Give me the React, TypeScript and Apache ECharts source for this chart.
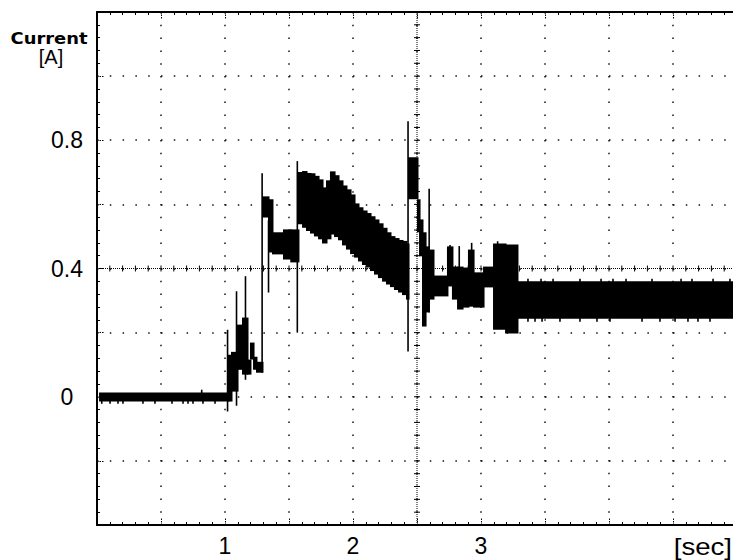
import React, { useEffect, useRef } from "react";
import * as echarts from "echarts";

// ---- axes (seconds / amperes) ----
const X_MIN = 0;
const X_MAX = 5;
const X_STEP = 0.5;
const X_MINOR = 0.1;
const Y_MIN = -0.4;
const Y_MAX = 1.2;
const Y_STEP = 0.2;
const Y_MINOR = 0.04;
const X_LABELS = [1, 2, 3];
const Y_LABELS = [0, 0.4, 0.8];
const X_UNIT = "[sec]";
const Y_TITLE = "Current";
const Y_UNIT = "[A]";
const CENTER_T = 2.5;
const CENTER_A = 0.4;

// ---- current envelope: block start time (s), low (A), high (A); a block lasts until the next start ----
const envTime = [
  0.016,
  1.023, 1.047, 1.094, 1.133, 1.172, 1.195, 1.219, 1.242,
  1.289, 1.336, 1.367, 1.453, 1.51,
  1.57, 1.602, 1.633, 1.664, 1.695, 1.727, 1.758, 1.789, 1.82, 1.852, 1.883, 1.914, 1.945, 1.977,
  2.008, 2.039, 2.07, 2.102, 2.133, 2.164, 2.195, 2.227, 2.258, 2.289, 2.32, 2.352, 2.383, 2.414,
  2.43, 2.5, 2.516, 2.539, 2.563, 2.586, 2.625, 2.734, 2.773, 2.813, 2.852, 2.898, 2.938, 3.016, 3.094, 3.188,
  3.281,
];
const envLow = [
  -0.015,
  -0.015, 0.016, 0.084, 0.069, 0.069, 0.116, 0.084, 0.075,
  0.559, 0.45, 0.444, 0.428, 0.419,
  0.538, 0.527, 0.517, 0.509, 0.5, 0.491, 0.478, 0.491, 0.506, 0.498, 0.488, 0.472, 0.459, 0.445,
  0.434, 0.422, 0.411, 0.403, 0.392, 0.381, 0.37, 0.359, 0.35, 0.342, 0.333, 0.325, 0.317, 0.303,
  0.616, 0.513, 0.438, 0.219, 0.263, 0.303, 0.313, 0.344, 0.303, 0.272, 0.278, 0.281, 0.278, 0.341, 0.209, 0.197,
  0.243,
];
const envHigh = [
  0.013,
  0.131, 0.14, 0.225, 0.247, 0.116, 0.169, 0.125, 0.109,
  0.625, 0.616, 0.513, 0.522, 0.522,
  0.701, 0.704, 0.698, 0.697, 0.689, 0.678, 0.653, 0.675, 0.703, 0.691, 0.675, 0.659, 0.647, 0.631,
  0.603, 0.591, 0.581, 0.573, 0.563, 0.553, 0.541, 0.527, 0.513, 0.501, 0.495, 0.489, 0.486, 0.478,
  0.747, 0.616, 0.553, 0.513, 0.469, 0.459, 0.378, 0.469, 0.406, 0.406, 0.403, 0.459, 0.388, 0.406, 0.478, 0.475,
  0.36,
];
const TRACE_END = 4.97;

// ---- single spikes: time (s), low (A), high (A) ----
const spikeTime = [
  0.037, 0.102, 0.164, 0.203, 0.359, 0.453, 0.586, 0.672, 0.711, 0.75, 0.818, 0.828, 0.922,
  1.02, 1.09, 1.16, 1.29, 1.34, 1.565, 2.43,
  2.595, 2.758, 2.83, 2.927, 3.13,
  3.367, 3.469, 3.563, 3.773, 3.938, 4.031, 4.133, 4.336, 4.563, 4.648, 4.813, 4.945,
  3.367, 3.422, 3.477, 3.617, 3.773, 3.906, 4.008, 4.258, 4.398, 4.516, 4.617, 4.695, 4.789,
];
const spikeLow = [
  -0.022, -0.022, -0.022, -0.022, -0.022, -0.022, -0.022, -0.022, -0.022, -0.022, -0.01, -0.022, -0.022,
  -0.046, -0.028, 0.053, 0.075, 0.325, 0.2, 0.141,
  0.263, 0.35, 0.3, 0.3, 0.3,
  0.35, 0.35, 0.35, 0.35, 0.35, 0.35, 0.35, 0.35, 0.35, 0.35, 0.35, 0.35,
  0.234, 0.234, 0.234, 0.234, 0.234, 0.234, 0.234, 0.234, 0.234, 0.234, 0.234, 0.234, 0.234,
];
const spikeHigh = [
  -0.01, -0.01, -0.01, -0.01, -0.01, -0.01, -0.01, -0.01, -0.01, -0.01, 0.022, -0.01, -0.01,
  0.209, 0.329, 0.376, 0.697, 0.55, 0.735, 0.859,
  0.649, 0.473, 0.47, 0.48, 0.485,
  0.368, 0.368, 0.368, 0.368, 0.368, 0.368, 0.368, 0.368, 0.368, 0.368, 0.368, 0.368,
  0.25, 0.25, 0.25, 0.25, 0.25, 0.25, 0.25, 0.25, 0.25, 0.25, 0.25, 0.25, 0.25,
];

const INK = "#000";
const LABEL_FONT = "'Liberation Sans', Arial, sans-serif";

const near = (a: number, b: number) => Math.abs(a - b) < 1e-6;

export default function App() {
  const ref = useRef<HTMLDivElement>(null);

  useEffect(() => {
    if (!ref.current) return;
    const chart = echarts.init(ref.current, undefined, { renderer: "svg" });

    const envData = envTime.map((t, i) => [t, envLow[i], envHigh[i]]);
    const spikeData = spikeTime.map((t, i) => [t, spikeLow[i], spikeHigh[i]]);

    const border = { show: true, onZero: false, lineStyle: { color: INK, width: 2 } };
    const majorTick = {
      show: true,
      inside: true,
      length: 7,
      lineStyle: { color: INK, width: 1, type: [1.5, 1] as any },
    };
    const minorTick = { show: true, splitNumber: 5, length: 3, lineStyle: { color: INK, width: 1 } };
    const dotted = { show: true, lineStyle: { color: "#111", width: 1.5, type: [1.5, 11.3] as any } };

    const option: any = {
      animation: false,
      backgroundColor: "#fff",
      grid: {
        left: 97,
        top: 12,
        width: 640,
        height: 513,
        containLabel: false,
        outerBoundsMode: "none",
      },
      xAxis: [
        {
          type: "value",
          position: "bottom",
          min: X_MIN,
          max: X_MAX,
          interval: X_STEP,
          axisLine: border,
          axisTick: majorTick,
          minorTick,
          splitLine: dotted,
          axisLabel: {
            show: true,
            margin: 21,
            verticalAlign: "middle",
            fontSize: 23,
            fontFamily: LABEL_FONT,
            color: INK,
            formatter: (v: number) => {
              const l = X_LABELS.find((x) => near(x, v));
              return l === undefined ? "" : String(l);
            },
          },
        },
        {
          type: "value",
          position: "top",
          min: X_MIN,
          max: X_MAX,
          interval: X_STEP,
          axisLine: border,
          axisTick: majorTick,
          minorTick,
          splitLine: { show: false },
          axisLabel: { show: false },
        },
      ],
      yAxis: [
        {
          type: "value",
          position: "left",
          min: Y_MIN,
          max: Y_MAX,
          interval: Y_STEP,
          axisLine: border,
          axisTick: majorTick,
          minorTick,
          splitLine: dotted,
          axisLabel: {
            show: true,
            margin: 30,
            align: "center",
            fontSize: 23,
            fontFamily: LABEL_FONT,
            color: INK,
            formatter: (v: number) => {
              const l = Y_LABELS.find((y) => near(y, v));
              return l === undefined ? "" : String(l);
            },
          },
        },
      ],
      graphic: [
        {
          type: "text",
          x: 49,
          y: 38,
          scaleX: 1.12,
          style: {
            text: Y_TITLE,
            fontFamily: "'DejaVu Sans', sans-serif",
            fontWeight: "bold",
            fontSize: 16,
            fill: INK,
            align: "center",
            verticalAlign: "middle",
          },
        },
        {
          type: "text",
          x: 51,
          y: 57,
          style: {
            text: Y_UNIT,
            fontFamily: LABEL_FONT,
            fontSize: 20,
            fill: INK,
            align: "center",
            verticalAlign: "middle",
          },
        },
        {
          type: "text",
          x: 732,
          y: 547,
          scaleX: 1.2,
          style: {
            text: X_UNIT,
            fontFamily: LABEL_FONT,
            fontSize: 23,
            fill: INK,
            align: "right",
            verticalAlign: "middle",
          },
        },
      ],
      series: [
        {
          name: "reticle",
          type: "custom",
          coordinateSystem: "cartesian2d",
          silent: true,
          z: 1,
          data: [[CENTER_T, CENTER_A]],
          encode: { x: 0, y: 1 },
          renderItem: (_p: any, api: any) => {
            const c = api.coord([CENTER_T, CENTER_A]);
            const lt = api.coord([X_MIN, Y_MAX]);
            const rb = api.coord([X_MAX, Y_MIN]);
            const children: any[] = [
              {
                type: "line",
                shape: { x1: lt[0], y1: c[1], x2: rb[0], y2: c[1] },
                style: { stroke: INK, lineWidth: 1, lineDash: [1, 1] },
              },
              {
                type: "line",
                shape: { x1: c[0], y1: lt[1], x2: c[0], y2: rb[1] },
                style: { stroke: INK, lineWidth: 1, lineDash: [1, 1] },
              },
            ];
            const nx = Math.round((X_MAX - X_MIN) / X_MINOR);
            for (let k = 1; k < nx; k++) {
              const p = api.coord([X_MIN + k * X_MINOR, CENTER_A]);
              children.push({
                type: "line",
                shape: { x1: p[0], y1: p[1] - 3, x2: p[0], y2: p[1] + 3 },
                style: { stroke: INK, lineWidth: 1 },
              });
            }
            const ny = Math.round((Y_MAX - Y_MIN) / Y_MINOR);
            for (let k = 1; k < ny; k++) {
              const p = api.coord([CENTER_T, Y_MIN + k * Y_MINOR]);
              children.push({
                type: "line",
                shape: { x1: p[0] - 3, y1: p[1], x2: p[0] + 3, y2: p[1] },
                style: { stroke: INK, lineWidth: 1 },
              });
            }
            return { type: "group", children };
          },
        },
        {
          name: "Current envelope",
          type: "custom",
          coordinateSystem: "cartesian2d",
          silent: true,
          clip: true,
          z: 3,
          data: envData,
          encode: { x: 0, y: [1, 2] },
          renderItem: (p: any, api: any) => {
            const i = p.dataIndex;
            const t0 = api.value(0);
            const lo = api.value(1);
            const hi = api.value(2);
            const t1 = i + 1 < envTime.length ? envTime[i + 1] : TRACE_END;
            const a = api.coord([t0, hi]);
            const b = api.coord([t1, lo]);
            return {
              type: "rect",
              shape: {
                x: a[0],
                y: a[1],
                width: Math.max(b[0] - a[0], 1) + 1.5,
                height: Math.max(b[1] - a[1], 1),
              },
              style: { fill: INK },
            };
          },
        },
        {
          name: "Current spikes",
          type: "custom",
          coordinateSystem: "cartesian2d",
          silent: true,
          clip: true,
          z: 4,
          data: spikeData,
          encode: { x: 0, y: [1, 2] },
          renderItem: (_p: any, api: any) => {
            const a = api.coord([api.value(0), api.value(2)]);
            const b = api.coord([api.value(0), api.value(1)]);
            return {
              type: "line",
              shape: { x1: a[0], y1: a[1], x2: b[0], y2: b[1] },
              style: { stroke: INK, lineWidth: 1.6 },
            };
          },
        },
      ],
    };

    chart.setOption(option);
    return () => chart.dispose();
  }, []);

  return (
    <div
      style={{
        position: "fixed",
        left: 0,
        top: 0,
        width: 733,
        height: 560,
        overflow: "hidden",
        background: "#fff",
      }}
    >
      <div ref={ref} style={{ width: 760, height: 560 }} />
    </div>
  );
}
